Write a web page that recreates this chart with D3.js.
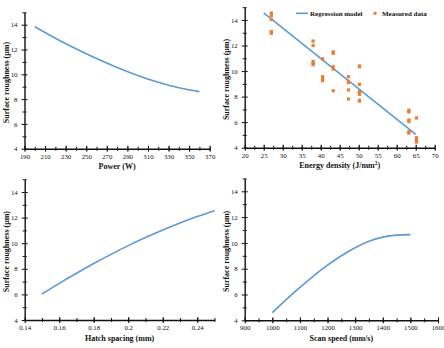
<!DOCTYPE html>
<html>
<head>
<meta charset="utf-8">
<script src="https://cdn.jsdelivr.net/npm/d3@7"></script>
<style>
  body { margin: 0; background: #fff; }
  svg text { font-family: "Liberation Serif", "Times New Roman", serif; fill: #111; }
</style>
</head>
<body>
<div id="chart"></div>
<script>
// Surface roughness vs. process parameters (4 panels)
const powerX = [200, 220, 240, 260, 280, 300, 320, 340, 360];
const powerY = [13.83, 12.91, 12.06, 11.27, 10.55, 9.91, 9.36, 8.92, 8.6];

const regressionX = [25, 65];
const regressionY = [14.55, 5.05];
const measuredX = [27, 27, 27, 27, 27,
  38, 38, 38, 38, 38,
  40.5, 40.5, 40.5, 40.5,
  43.3, 43.3, 43.3, 43.3, 43.3,
  47.3, 47.3, 47.3, 47.3, 47.3,
  50.2, 50.2, 50.2, 50.2, 50.2, 50.2, 50.2, 50.2,
  63.2, 63.2, 63.2, 63.2, 63.2, 63.2,
  65.2, 65.2, 65.2, 65.2];
const measuredY = [14.55, 14.35, 14.05, 13.1, 12.95,
  12.35, 12.0, 10.75, 10.6, 10.5,
  10.95, 9.56, 9.4, 9.25,
  11.5, 11.39, 10.34, 10.16, 8.46,
  9.56, 9.2, 9.1, 8.52, 7.81,
  10.4, 10.34, 8.96, 8.4, 8.3, 8.18, 7.71, 7.65,
  6.93, 6.8, 6.17, 6.05, 5.25, 5.15,
  6.33, 4.78, 4.6, 4.45];

const hatchX = [0.15, 0.16, 0.17, 0.18, 0.19, 0.2, 0.21, 0.22, 0.23, 0.24, 0.25];
const hatchY = [6.03, 6.86, 7.65, 8.41, 9.13, 9.81, 10.44, 11.03, 11.58, 12.08, 12.54];

const scanX = [1000, 1050, 1100, 1150, 1200, 1250, 1300, 1350, 1400, 1450, 1500];
const scanY = [4.59, 5.6, 6.55, 7.45, 8.27, 9.0, 9.62, 10.12, 10.45, 10.6, 10.64];

const yTicks = [4, 6, 8, 10, 12, 14];
const yMinor = [5, 7, 9, 11, 13, 15];
const powerTicks = [190, 210, 230, 250, 270, 290, 310, 330, 350, 370];
const energyTicks = [20, 25, 30, 35, 40, 45, 50, 55, 60, 65, 70];
const hatchTicks = [0.14, 0.16, 0.18, 0.2, 0.22, 0.24];
const scanTicks = [900, 1000, 1100, 1200, 1300, 1400, 1500, 1600];

const yTitle = "Surface roughness (\u03bcm)";
const blue = "#5b9bd5";
const orange = "#ed7d31";

const svg = d3.select("#chart").append("svg")
    .attr("width", 444)
    .attr("height", 348);

function drawPanel(p) {
    const x = d3.scaleLinear().domain(p.xDomain).range([p.left, p.right]);
    const y = d3.scaleLinear().domain([4, 15]).range([p.bottom, p.top]);
    const g = svg.append("g");

    // minor ticks (cross the axis)
    const xMinor = d3.range(p.xDomain[0], p.xDomain[1] + p.minorStep / 2, p.minorStep);
    [d3.axisBottom, d3.axisTop].forEach(ax => {
        g.append("g").attr("transform", `translate(0,${p.bottom})`)
            .call(ax(x).tickValues(xMinor).tickSize(2).tickFormat(""))
            .call(s => s.select(".domain").remove());
    });
    [d3.axisLeft, d3.axisRight].forEach(ax => {
        g.append("g").attr("transform", `translate(${p.left},0)`)
            .call(ax(y).tickValues(yMinor).tickSize(2).tickFormat(""))
            .call(s => s.select(".domain").remove());
    });
    // major ticks on the inner side
    g.append("g").attr("transform", `translate(0,${p.bottom})`)
        .call(d3.axisTop(x).tickValues(p.xTicks).tickSize(3).tickFormat(""))
        .call(s => s.select(".domain").remove());
    g.append("g").attr("transform", `translate(${p.left},0)`)
        .call(d3.axisRight(y).tickValues(yTicks).tickSize(3).tickFormat(""))
        .call(s => s.select(".domain").remove());

    // main axes with labels
    const xa = g.append("g").attr("transform", `translate(0,${p.bottom})`)
        .call(d3.axisBottom(x).tickValues(p.xTicks).tickSize(3).tickSizeOuter(0).tickPadding(2)
            .tickFormat(p.xFormat || d3.format("d")));
    const ya = g.append("g").attr("transform", `translate(${p.left},0)`)
        .call(d3.axisLeft(y).tickValues(yTicks).tickSize(3).tickSizeOuter(0).tickPadding(4)
            .tickFormat(d3.format("d")));
    [xa, ya].forEach(a => {
        a.select(".domain").attr("stroke", "#111").attr("stroke-width", 1.4);
        a.selectAll("text").attr("font-size", 6.8).attr("font-family", "Liberation Serif, serif").attr("fill", "#111");
    });
    g.selectAll(".tick line").attr("stroke", "#111").attr("stroke-width", 1);

    // axis titles
    const xt = g.append("text")
        .attr("x", (p.left + p.right) / 2)
        .attr("y", p.bottom + 20.5)
        .attr("text-anchor", "middle")
        .attr("font-size", 8)
        .attr("font-weight", "bold")
        .text(p.xTitle);
    if (p.xSup) {
        xt.append("tspan").attr("baseline-shift", "super").attr("font-size", 5.5).text(p.xSup);
        xt.append("tspan").text(")");
    }
    g.append("text")
        .attr("transform", `translate(${p.left - 15.5},${(p.top + p.bottom) / 2 + 2}) rotate(-90)`)
        .attr("text-anchor", "middle")
        .attr("font-size", 8)
        .attr("font-weight", "bold")
        .text(yTitle);

    const line = d3.line().x(d => x(d[0])).y(d => y(d[1])).curve(d3.curveNatural);
    g.append("path")
        .datum(d3.zip(p.lineX, p.lineY))
        .attr("fill", "none")
        .attr("stroke", blue)
        .attr("stroke-width", 1.6)
        .attr("d", line);

    if (p.pointsX) {
        g.selectAll("rect.pt")
            .data(d3.zip(p.pointsX, p.pointsY))
            .join("rect")
            .attr("class", "pt")
            .attr("x", d => x(d[0]) - 1.6)
            .attr("y", d => y(d[1]) - 1.6)
            .attr("width", 3.2)
            .attr("height", 3.2)
            .attr("fill", orange);
    }
    return g;
}

drawPanel({
    xDomain: [190, 370], left: 24.5, right: 209.7, top: 12.3, bottom: 148.7,
    xTicks: powerTicks, minorStep: 10, xTitle: "Power (W)",
    lineX: powerX, lineY: powerY
});

const g2 = drawPanel({
    xDomain: [20, 70], left: 244.7, right: 434.7, top: 7.2, bottom: 147.7,
    xTicks: energyTicks, minorStep: 2.5, xTitle: "Energy density (J/mm", xSup: "2",
    lineX: regressionX, lineY: regressionY,
    pointsX: measuredX, pointsY: measuredY
});

// legend for panel 2
g2.append("line").attr("x1", 296).attr("x2", 308).attr("y1", 13.3).attr("y2", 13.3)
    .attr("stroke", blue).attr("stroke-width", 1.6);
g2.append("text").attr("x", 310).attr("y", 15.6).attr("font-size", 7).attr("font-weight", "bold")
    .text("Regression model");
g2.append("rect").attr("x", 373.5).attr("y", 11.8).attr("width", 3).attr("height", 3).attr("fill", orange);
g2.append("text").attr("x", 382).attr("y", 15.6).attr("font-size", 7).attr("font-weight", "bold")
    .text("Measured data");

drawPanel({
    xDomain: [0.14, 0.25], left: 24.7, right: 214.5, top: 179.2, bottom: 320,
    xTicks: hatchTicks, minorStep: 0.01, xTitle: "Hatch spacing (mm)",
    xFormat: d => String(+d.toFixed(2)),
    lineX: hatchX, lineY: hatchY
});

drawPanel({
    xDomain: [900, 1600], left: 244.7, right: 438, top: 178.4, bottom: 320.3,
    xTicks: scanTicks, minorStep: 50, xTitle: "Scan speed (mm/s)",
    lineX: scanX, lineY: scanY
});
</script>
</body>
</html>
